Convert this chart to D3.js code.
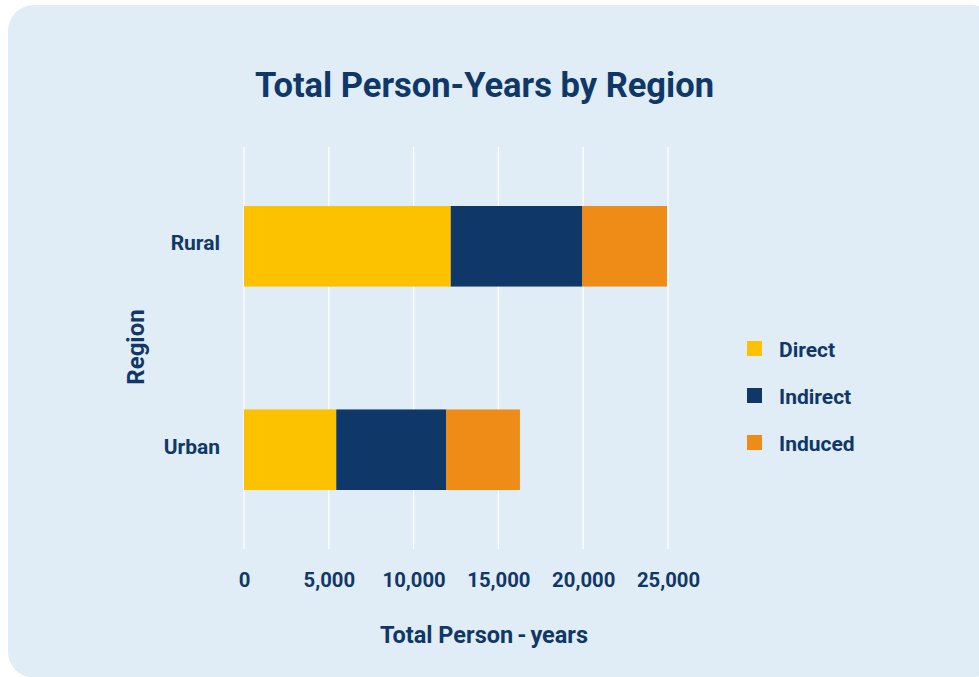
<!DOCTYPE html>
<html>
<head>
<meta charset="utf-8">
<script src="https://cdn.jsdelivr.net/npm/d3@7"></script>
<style>
  html, body { margin: 0; padding: 0; background: #ffffff; }
  svg { display: block; }
  text { font-family: Roboto, "Noto Sans", sans-serif; font-weight: 700; fill: #0f3869; }
</style>
</head>
<body>
<svg id="chart" width="979" height="677"></svg>
<script>
const regions = ["Rural", "Urban"];
const seriesNames = ["Direct", "Indirect", "Induced"];
const direct = [12190, 5440];
const indirect = [7740, 6470];
const induced = [5010, 4360];
const xTicks = [0, 5000, 10000, 15000, 20000, 25000];
const colors = ["#fcc200", "#0f3869", "#ee8c17"];

const svg = d3.select("#chart");
const W = 979, H = 677;

// card background
svg.append("rect")
  .attr("x", 8).attr("y", 5)
  .attr("width", W + 10).attr("height", H - 5 + 0.5)
  .attr("rx", 26).attr("ry", 26)
  .attr("fill", "#e0ecf6");

const rows = regions.map((r, i) => ({ region: r, Direct: direct[i], Indirect: indirect[i], Induced: induced[i] }));
const stacked = d3.stack().keys(seriesNames)(rows);

const x = d3.scaleLinear().domain([0, 25000]).range([244, 668]);
const y = d3.scaleBand().domain(regions).range([147, 549]).paddingInner(0.604).paddingOuter(0.29);

// gridlines
svg.append("g").selectAll("line").data(xTicks).join("line")
  .attr("x1", d => x(d)).attr("x2", d => x(d))
  .attr("y1", 147).attr("y2", 549)
  .attr("stroke", "#ffffff").attr("stroke-width", 1.3);

// bars
svg.append("g").selectAll("g").data(stacked).join("g")
  .attr("fill", (d, i) => colors[i])
  .selectAll("rect").data(d => d).join("rect")
  .attr("x", d => x(d[0]))
  .attr("width", d => x(d[1]) - x(d[0]))
  .attr("y", d => y(d.data.region))
  .attr("height", y.bandwidth());

// x axis tick labels
const xAxis = d3.axisBottom(x).tickValues(xTicks).tickFormat(d3.format(",")).tickSize(0).tickPadding(0);
const gx = svg.append("g").attr("transform", "translate(0,573)").call(xAxis);
gx.select(".domain").remove();
gx.selectAll("text").attr("font-size", 20.3).attr("font-family", "Roboto").attr("font-weight", 700).attr("fill", "#0f3869");

// y axis category labels
const yAxis = d3.axisLeft(y).tickSize(0).tickPadding(24);
const gy = svg.append("g").attr("transform", "translate(244,0)").call(yAxis);
gy.select(".domain").remove();
gy.selectAll("text").attr("font-size", 21).attr("dy", "0.2em").attr("font-family", "Roboto").attr("font-weight", 700).attr("fill", "#0f3869");

// title
svg.append("text")
  .attr("x", 484.5).attr("y", 97)
  .attr("text-anchor", "middle")
  .attr("font-size", 34.5)
  .text("Total Person-Years by Region");

// x axis title
const xt = svg.append("text")
  .attr("x", 484).attr("y", 643)
  .attr("text-anchor", "middle")
  .attr("font-size", 23.5);
xt.append("tspan").text("Total Person");
xt.append("tspan").attr("dx", 4).text("-");
xt.append("tspan").attr("dx", 4).text("years");

// y axis title
svg.append("text")
  .attr("transform", "translate(144,347) rotate(-90)")
  .attr("text-anchor", "middle")
  .attr("font-size", 24)
  .text("Region");

// legend
const lg = svg.append("g").selectAll("g").data(seriesNames).join("g")
  .attr("transform", (d, i) => `translate(747,${341 + i * 47})`);
lg.append("rect").attr("width", 15).attr("height", 15).attr("fill", (d, i) => colors[i]);
lg.append("text").attr("x", 32).attr("y", 16).attr("font-size", 21).text(d => d);
</script>
</body>
</html>
